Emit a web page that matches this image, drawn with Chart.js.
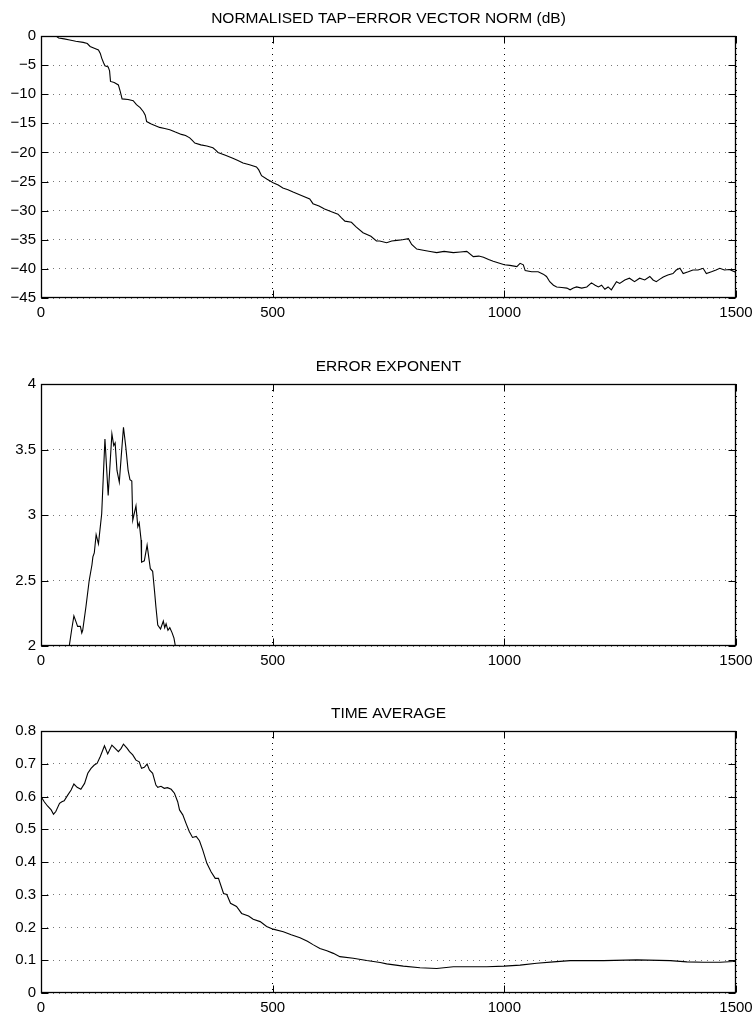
<!DOCTYPE html>
<html>
<head>
<meta charset="utf-8">
<script src="https://cdn.jsdelivr.net/npm/chart.js"></script>
<style>
  body { margin: 0; width: 754px; height: 1013px; overflow: hidden; background: #fff; }
  .panel { position: absolute; left: 0; width: 754px; height: 330px; }
</style>
</head>
<body>
<div class="panel" style="top:0px"><canvas id="tapChart"></canvas></div>
<div class="panel" style="top:348px"><canvas id="expChart"></canvas></div>
<div class="panel" style="top:695px"><canvas id="avgChart"></canvas></div>
<script>
// sample index axis
const xTicks = [0, 500, 1000, 1500];

// 1) normalised tap-error vector norm (dB)
const tapX = [0, 10, 20, 30, 34, 38, 50, 62, 75, 91, 100, 106, 115, 124, 128, 131, 135, 138, 145, 148,
  150, 158, 167, 171, 175, 188, 199, 206, 214, 221, 225, 228, 238, 247, 256, 267, 278, 290, 303, 312,
  321, 326, 332, 345, 358, 371, 377, 382, 398, 414, 425, 436, 450, 465, 470, 476, 488, 501, 512, 522,
  533, 544, 562, 580, 587, 600, 612, 627, 641, 648, 656, 670, 680, 695, 712, 724, 731, 746, 757, 768,
  780, 793, 800, 811, 825, 840, 854, 870, 890, 905, 919, 933, 945, 955, 966, 976, 988, 1000, 1012, 1027,
  1034, 1041, 1045, 1059, 1073, 1084, 1091, 1098, 1106, 1113, 1124, 1135, 1142, 1149, 1156, 1167, 1178, 1188, 1196, 1203,
  1210, 1217, 1224, 1231, 1242, 1249, 1260, 1270, 1281, 1292, 1303, 1314, 1321, 1328, 1335, 1343, 1353, 1364, 1371, 1379,
  1386, 1397, 1407, 1418, 1429, 1436, 1447, 1457, 1465, 1475, 1486, 1497, 1500];
const tapDb = [0, 0, 0, 0, -0.1, -0.35, -0.5, -0.7, -0.9, -1.1, -1.3, -1.8, -2.1, -2.4, -3.0, -3.8, -4.6, -5.1, -5.3, -6.0,
  -7.8, -8.0, -8.4, -9.5, -10.8, -10.9, -11.1, -11.8, -12.3, -13.0, -13.6, -14.7, -15.1, -15.4, -15.7, -15.9, -16.1, -16.5, -16.9, -17.1,
  -17.5, -17.9, -18.4, -18.7, -18.9, -19.2, -19.6, -20.0, -20.5, -21.0, -21.4, -21.8, -22.1, -22.5, -23.0, -24.0, -24.6, -25.2, -25.6, -26.1,
  -26.4, -26.8, -27.4, -28.0, -28.8, -29.2, -29.7, -30.2, -30.6, -31.2, -31.8, -32.0, -32.8, -33.8, -34.4, -35.2, -35.2, -35.5, -35.2, -35.1,
  -35.0, -34.8, -35.8, -36.6, -36.8, -37.0, -37.2, -37.0, -37.2, -37.1, -37.0, -37.9, -37.8, -38.0, -38.4, -38.7, -39.0, -39.3, -39.4, -39.6,
  -39.05, -39.3, -40.3, -40.5, -40.5, -40.9, -41.3, -42.2, -42.8, -43.1, -43.2, -43.3, -43.6, -43.3, -43.1, -43.3, -43.1, -42.4, -42.8, -43.1,
  -42.8, -43.5, -43.1, -43.6, -42.2, -42.5, -41.9, -41.6, -42.2, -41.6, -41.9, -41.3, -41.9, -42.2, -41.8, -41.4, -41.05, -40.8, -40.2, -39.9,
  -40.8, -40.5, -40.2, -40.2, -39.9, -40.8, -40.5, -40.2, -39.9, -40.2, -40.1, -40.5, -40.3];
const tapTicks = [-45, -40, -35, -30, -25, -20, -15, -10, -5, 0];

// 2) error exponent
const expX = [58, 61, 66, 71, 76, 79, 85, 88, 90, 97, 104, 110, 112, 115, 119, 124, 131, 138, 145, 153,
  157, 160, 164, 169, 173, 178, 183, 188, 192, 196, 198, 205, 209, 212, 216, 217, 223, 229, 236, 241,
  245, 248, 252, 258, 264, 267, 270, 274, 278, 283, 287, 291, 295];
const expVal = [1.95, 2.0, 2.12, 2.23, 2.18, 2.15, 2.15, 2.10, 2.12, 2.30, 2.50, 2.62, 2.68, 2.71, 2.85, 2.78, 3.01, 3.58, 3.15, 3.62,
  3.53, 3.55, 3.34, 3.25, 3.44, 3.67, 3.52, 3.34, 3.27, 3.26, 2.96, 3.07, 2.91, 2.94, 2.81, 2.64, 2.65, 2.77, 2.59, 2.57,
  2.42, 2.30, 2.16, 2.13, 2.19, 2.14, 2.17, 2.12, 2.14, 2.10, 2.06, 1.98, 1.9];
const expTicks = [2, 2.5, 3, 3.5, 4];

// 3) time average
const avgX = [0, 7, 14, 22, 27, 32, 40, 45, 50, 58, 65, 71, 78, 86, 94, 101, 108, 115, 121, 128,
  137, 144, 153, 160, 167, 173, 178, 186, 191, 198, 205, 212, 217, 223, 229, 234, 241, 248, 252, 259,
  266, 273, 281, 288, 295, 299, 306, 313, 320, 327, 335, 342, 349, 358, 367, 376, 383, 394, 401, 409,
  422, 433, 448, 458, 473, 487, 501, 523, 540, 559, 575, 588, 602, 617, 631, 645, 674, 703, 732, 746,
  782, 818, 854, 890, 926, 962, 1000, 1034, 1070, 1106, 1142, 1214, 1286, 1358, 1394, 1430, 1466, 1494, 1499, 1500];
const avgVal = [0.600, 0.584, 0.571, 0.559, 0.546, 0.554, 0.579, 0.584, 0.587, 0.605, 0.620, 0.638, 0.628, 0.622, 0.640, 0.671, 0.686, 0.696, 0.701, 0.722,
  0.755, 0.730, 0.757, 0.747, 0.737, 0.747, 0.760, 0.747, 0.737, 0.727, 0.711, 0.706, 0.686, 0.689, 0.699, 0.681, 0.671, 0.635, 0.628, 0.631,
  0.625, 0.627, 0.622, 0.610, 0.584, 0.559, 0.544, 0.518, 0.493, 0.475, 0.478, 0.465, 0.437, 0.396, 0.370, 0.350, 0.350, 0.304, 0.301, 0.274,
  0.264, 0.243, 0.235, 0.225, 0.218, 0.203, 0.195, 0.187, 0.178, 0.169, 0.158, 0.147, 0.136, 0.129, 0.121, 0.111, 0.106, 0.099, 0.093, 0.089,
  0.082, 0.077, 0.075, 0.080, 0.080, 0.080, 0.082, 0.085, 0.091, 0.095, 0.099, 0.099, 0.101, 0.099, 0.095, 0.094, 0.094, 0.096, 0.097, 0.04];
const avgTicks = [0, 0.1, 0.2, 0.3, 0.4, 0.5, 0.6, 0.7, 0.8];

const FONT = "'Liberation Sans', Arial, Helvetica, sans-serif";

//box round the plot + matlab style inner tick marks
const frameTicks = {
  id: 'frameTicks',
  afterDraw(chart) {
    const {ctx, chartArea: a, scales} = chart;
    const L = Math.round(a.left) + 0.5, R = Math.round(a.right) - 0.5;
    const T = Math.round(a.top) + 0.5, B = Math.round(a.bottom) - 0.5;
    const len = 7;
    ctx.save();
    ctx.strokeStyle = '#000';
    ctx.lineWidth = 1;
    ctx.beginPath();
    scales.x.ticks.forEach(t => {
      const px = Math.round(scales.x.getPixelForValue(t.value)) + 0.5;
      ctx.moveTo(px, B); ctx.lineTo(px, B - len);
      ctx.moveTo(px, T); ctx.lineTo(px, T + len);
    });
    scales.y.ticks.forEach(t => {
      const py = Math.round(scales.y.getPixelForValue(t.value)) + 0.5;
      ctx.moveTo(L, py); ctx.lineTo(L + len, py);
      ctx.moveTo(R, py); ctx.lineTo(R - len, py);
    });
    ctx.stroke();
    ctx.lineWidth = 1.3;
    ctx.strokeRect(L, T, R - L, B - T);
    ctx.restore();
  }
};

function makePanel(id, title, xs, ys, yTicks, yMin, yMax, fmt) {
  new Chart(document.getElementById(id), {
    type: 'line',
    data: {
      datasets: [{
        data: xs.map((x, i) => ({x: x, y: ys[i]})),
        borderColor: '#000',
        borderWidth: 1.1,
        pointRadius: 0,
        tension: 0,
        fill: false
      }]
    },
    options: {
      responsive: true,
      maintainAspectRatio: false,
      animation: false,
      layout: { padding: 0 },
      plugins: {
        legend: { display: false },
        tooltip: { enabled: false },
        title: {
          display: true,
          text: title,
          fullSize: false,
          color: '#000',
          font: { family: FONT, size: 15.5, weight: 'normal', lineHeight: 1.2 },
          padding: { top: 9.5, bottom: 7.9 }
        }
      },
      scales: {
        x: {
          type: 'linear',
          min: 0, max: 1500,
          afterBuildTicks: s => { s.ticks = xTicks.map(v => ({value: v})); },
          afterFit: s => { s.height = 32; s.paddingLeft = 0; s.paddingRight = 18; },
          grid: { color: '#000', lineWidth: 1, drawTicks: false },
          border: { display: false, dash: [1, 5] },
          ticks: { color: '#000', padding: 6, maxRotation: 0, font: { family: FONT, size: 15 },
            callback: v => String(v) }
        },
        y: {
          min: yMin, max: yMax,
          afterBuildTicks: s => { s.ticks = yTicks.map(v => ({value: v})); },
          afterFit: s => { s.width = 41; },
          grid: { color: '#777', lineWidth: 1, drawTicks: false },
          border: { display: false, dash: [1, 5] },
          ticks: { color: '#000', padding: 5, font: { family: FONT, size: 15 }, callback: fmt }
        }
      }
    },
    plugins: [frameTicks]
  });
}

makePanel('tapChart', 'NORMALISED TAP\u2212ERROR VECTOR NORM (dB)', tapX, tapDb, tapTicks, -45, 0,
  v => String(v).replace('-', '\u2212'));
makePanel('expChart', 'ERROR EXPONENT', expX, expVal, expTicks, 2, 4, v => String(v));
makePanel('avgChart', 'TIME AVERAGE', avgX, avgVal, avgTicks, 0, 0.8, v => String(v));
</script>
</body>
</html>
